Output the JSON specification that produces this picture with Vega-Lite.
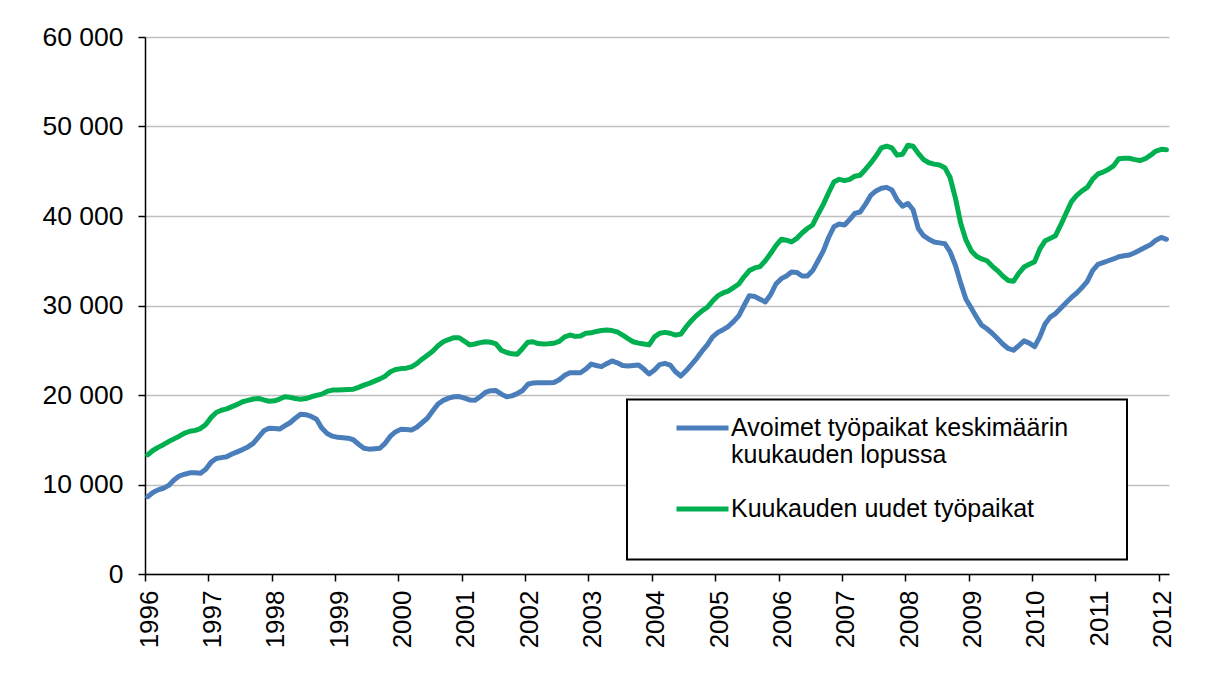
{
  "$schema": "https://vega.github.io/schema/vega-lite/v6.json",
  "width": 1024,
  "height": 537,
  "autosize": {"type": "none"},
  "padding": {"left": 145, "top": 37, "right": 46, "bottom": 108},
  "background": "#ffffff",
  "config": {
    "view": {"stroke": null},
    "font": "Liberation Sans",
    "legend": {"strokeWidth": 2}
  },
  "data": {
    "format": {"parse": {"d": "date:'%Y-%m'"}},
    "values": [
      {"d":"1996-01","a":8640,"u":13300},{"d":"1996-02","a":9100,"u":13800},{"d":"1996-03","a":9400,"u":14150},{"d":"1996-04","a":9580,"u":14450},{"d":"1996-05","a":9900,"u":14800},{"d":"1996-06","a":10500,"u":15100},{"d":"1996-07","a":10950,"u":15400},{"d":"1996-08","a":11150,"u":15750},{"d":"1996-09","a":11300,"u":15950},{"d":"1996-10","a":11300,"u":16050},{"d":"1996-11","a":11250,"u":16250},{"d":"1996-12","a":11700,"u":16700},
      {"d":"1997-01","a":12500,"u":17500},{"d":"1997-02","a":12900,"u":18050},{"d":"1997-03","a":13000,"u":18300},{"d":"1997-04","a":13100,"u":18450},{"d":"1997-05","a":13400,"u":18700},{"d":"1997-06","a":13650,"u":18950},{"d":"1997-07","a":13900,"u":19250},{"d":"1997-08","a":14200,"u":19400},{"d":"1997-09","a":14600,"u":19550},{"d":"1997-10","a":15300,"u":19620},{"d":"1997-11","a":16000,"u":19450},{"d":"1997-12","a":16280,"u":19300},
      {"d":"1998-01","a":16250,"u":19350},{"d":"1998-02","a":16200,"u":19550},{"d":"1998-03","a":16550,"u":19800},{"d":"1998-04","a":16900,"u":19750},{"d":"1998-05","a":17400,"u":19600},{"d":"1998-06","a":17850,"u":19520},{"d":"1998-07","a":17800,"u":19600},{"d":"1998-08","a":17600,"u":19800},{"d":"1998-09","a":17300,"u":19950},{"d":"1998-10","a":16300,"u":20100},{"d":"1998-11","a":15700,"u":20400},{"d":"1998-12","a":15400,"u":20550},
      {"d":"1999-01","a":15270,"u":20550},{"d":"1999-02","a":15230,"u":20580},{"d":"1999-03","a":15180,"u":20620},{"d":"1999-04","a":15000,"u":20650},{"d":"1999-05","a":14500,"u":20850},{"d":"1999-06","a":14050,"u":21100},{"d":"1999-07","a":13950,"u":21300},{"d":"1999-08","a":14000,"u":21550},{"d":"1999-09","a":14050,"u":21800},{"d":"1999-10","a":14600,"u":22100},{"d":"1999-11","a":15400,"u":22600},{"d":"1999-12","a":15900,"u":22850},
      {"d":"2000-01","a":16170,"u":22950},{"d":"2000-02","a":16150,"u":23000},{"d":"2000-03","a":16100,"u":23150},{"d":"2000-04","a":16400,"u":23500},{"d":"2000-05","a":16900,"u":24000},{"d":"2000-06","a":17400,"u":24450},{"d":"2000-07","a":18200,"u":24900},{"d":"2000-08","a":19000,"u":25500},{"d":"2000-09","a":19400,"u":25950},{"d":"2000-10","a":19650,"u":26200},{"d":"2000-11","a":19800,"u":26400},{"d":"2000-12","a":19820,"u":26400},
      {"d":"2001-01","a":19650,"u":26000},{"d":"2001-02","a":19450,"u":25600},{"d":"2001-03","a":19400,"u":25700},{"d":"2001-04","a":19800,"u":25850},{"d":"2001-05","a":20300,"u":25950},{"d":"2001-06","a":20480,"u":25900},{"d":"2001-07","a":20500,"u":25700},{"d":"2001-08","a":20100,"u":25000},{"d":"2001-09","a":19800,"u":24750},{"d":"2001-10","a":19900,"u":24600},{"d":"2001-11","a":20150,"u":24550},{"d":"2001-12","a":20500,"u":25200},
      {"d":"2002-01","a":21200,"u":25900},{"d":"2002-02","a":21350,"u":25950},{"d":"2002-03","a":21370,"u":25750},{"d":"2002-04","a":21380,"u":25700},{"d":"2002-05","a":21370,"u":25720},{"d":"2002-06","a":21400,"u":25780},{"d":"2002-07","a":21700,"u":26000},{"d":"2002-08","a":22200,"u":26500},{"d":"2002-09","a":22490,"u":26700},{"d":"2002-10","a":22500,"u":26550},{"d":"2002-11","a":22490,"u":26600},{"d":"2002-12","a":22900,"u":26900},
      {"d":"2003-01","a":23450,"u":26950},{"d":"2003-02","a":23300,"u":27100},{"d":"2003-03","a":23170,"u":27200},{"d":"2003-04","a":23500,"u":27250},{"d":"2003-05","a":23800,"u":27200},{"d":"2003-06","a":23600,"u":27050},{"d":"2003-07","a":23300,"u":26700},{"d":"2003-08","a":23240,"u":26300},{"d":"2003-09","a":23300,"u":25950},{"d":"2003-10","a":23350,"u":25800},{"d":"2003-11","a":22900,"u":25700},{"d":"2003-12","a":22350,"u":25600},
      {"d":"2004-01","a":22800,"u":26500},{"d":"2004-02","a":23400,"u":26900},{"d":"2004-03","a":23540,"u":27000},{"d":"2004-04","a":23350,"u":26900},{"d":"2004-05","a":22600,"u":26700},{"d":"2004-06","a":22120,"u":26800},{"d":"2004-07","a":22700,"u":27600},{"d":"2004-08","a":23400,"u":28300},{"d":"2004-09","a":24100,"u":28900},{"d":"2004-10","a":24900,"u":29400},{"d":"2004-11","a":25600,"u":29800},{"d":"2004-12","a":26500,"u":30500},
      {"d":"2005-01","a":27000,"u":31100},{"d":"2005-02","a":27300,"u":31400},{"d":"2005-03","a":27650,"u":31600},{"d":"2005-04","a":28200,"u":32000},{"d":"2005-05","a":28850,"u":32400},{"d":"2005-06","a":30000,"u":33200},{"d":"2005-07","a":31100,"u":33900},{"d":"2005-08","a":31000,"u":34200},{"d":"2005-09","a":30700,"u":34350},{"d":"2005-10","a":30400,"u":35000},{"d":"2005-11","a":31200,"u":35800},{"d":"2005-12","a":32400,"u":36700},
      {"d":"2006-01","a":33000,"u":37400},{"d":"2006-02","a":33300,"u":37300},{"d":"2006-03","a":33750,"u":37100},{"d":"2006-04","a":33700,"u":37500},{"d":"2006-05","a":33300,"u":38100},{"d":"2006-06","a":33300,"u":38600},{"d":"2006-07","a":33900,"u":39000},{"d":"2006-08","a":35000,"u":40200},{"d":"2006-09","a":36100,"u":41300},{"d":"2006-10","a":37600,"u":42600},{"d":"2006-11","a":38800,"u":43800},{"d":"2006-12","a":39100,"u":44100},
      {"d":"2007-01","a":39000,"u":43950},{"d":"2007-02","a":39600,"u":44100},{"d":"2007-03","a":40300,"u":44450},{"d":"2007-04","a":40450,"u":44550},{"d":"2007-05","a":41300,"u":45200},{"d":"2007-06","a":42300,"u":45900},{"d":"2007-07","a":42800,"u":46700},{"d":"2007-08","a":43100,"u":47600},{"d":"2007-09","a":43200,"u":47800},{"d":"2007-10","a":42900,"u":47600},{"d":"2007-11","a":41800,"u":46800},{"d":"2007-12","a":41100,"u":46900},
      {"d":"2008-01","a":41400,"u":47900},{"d":"2008-02","a":40700,"u":47800},{"d":"2008-03","a":38600,"u":47000},{"d":"2008-04","a":37800,"u":46300},{"d":"2008-05","a":37400,"u":45950},{"d":"2008-06","a":37100,"u":45800},{"d":"2008-07","a":37000,"u":45700},{"d":"2008-08","a":36900,"u":45400},{"d":"2008-09","a":36000,"u":44300},{"d":"2008-10","a":34500,"u":42000},{"d":"2008-11","a":32500,"u":39200},{"d":"2008-12","a":30700,"u":37300},
      {"d":"2009-01","a":29700,"u":36100},{"d":"2009-02","a":28700,"u":35500},{"d":"2009-03","a":27800,"u":35200},{"d":"2009-04","a":27400,"u":35000},{"d":"2009-05","a":26900,"u":34400},{"d":"2009-06","a":26300,"u":33900},{"d":"2009-07","a":25700,"u":33300},{"d":"2009-08","a":25200,"u":32800},{"d":"2009-09","a":25000,"u":32700},{"d":"2009-10","a":25500,"u":33600},{"d":"2009-11","a":26050,"u":34300},{"d":"2009-12","a":25800,"u":34600},
      {"d":"2010-01","a":25400,"u":34900},{"d":"2010-02","a":26500,"u":36300},{"d":"2010-03","a":27900,"u":37200},{"d":"2010-04","a":28700,"u":37500},{"d":"2010-05","a":29100,"u":37800},{"d":"2010-06","a":29700,"u":39000},{"d":"2010-07","a":30300,"u":40300},{"d":"2010-08","a":30900,"u":41600},{"d":"2010-09","a":31400,"u":42300},{"d":"2010-10","a":32000,"u":42800},{"d":"2010-11","a":32700,"u":43200},{"d":"2010-12","a":33900,"u":44100},
      {"d":"2011-01","a":34600,"u":44700},{"d":"2011-02","a":34800,"u":44900},{"d":"2011-03","a":35000,"u":45200},{"d":"2011-04","a":35200,"u":45600},{"d":"2011-05","a":35450,"u":46400},{"d":"2011-06","a":35550,"u":46450},{"d":"2011-07","a":35650,"u":46450},{"d":"2011-08","a":35900,"u":46300},{"d":"2011-09","a":36200,"u":46200},{"d":"2011-10","a":36500,"u":46400},{"d":"2011-11","a":36800,"u":46800},{"d":"2011-12","a":37300,"u":47250},
      {"d":"2012-01","a":37600,"u":47450},{"d":"2012-02","a":37400,"u":47400}
    ]
  },
  "transform": [
    {"fold": ["a", "u"], "as": ["sarja", "arvo"]}
  ],
  "mark": {"type": "line", "strokeWidth": 5, "strokeJoin": "round", "strokeCap": "round"},
  "encoding": {
    "x": {
      "field": "d",
      "timeUnit": "yearmonth",
      "type": "temporal",
      "bandPosition": 0.5,
      "scale": {"domain": [{"year": 1996, "month": 1, "date": 1}, {"year": 2012, "month": 3, "date": 1}]},
      "axis": {
        "title": null,
        "format": "%Y",
        "tickCount": {"interval": "year", "step": 1},
        "grid": false,
        "domainColor": "#000000",
        "domainWidth": 1.5,
        "tickColor": "#000000",
        "tickWidth": 1.5,
        "tickSize": 7,
        "labelAngle": -90,
        "labelPadding": 9,
        "labelOffset": 4,
        "labelFontSize": 26,
        "labelColor": "#000000",
        "labelFont": "Liberation Sans",
        "labelFlush": false,
        "labelOverlap": false
      }
    },
    "y": {
      "field": "arvo",
      "type": "quantitative",
      "scale": {"domain": [0, 60000], "nice": false},
      "axis": {
        "title": null,
        "values": [0, 10000, 20000, 30000, 40000, 50000, 60000],
        "labelExpr": "replace(format(datum.value, ','), ',', ' ')",
        "grid": true,
        "gridColor": "#bfbfbf",
        "gridWidth": 1.5,
        "domainColor": "#000000",
        "domainWidth": 1.5,
        "tickColor": "#000000",
        "tickWidth": 1.5,
        "tickSize": 7,
        "labelPadding": 15,
        "labelFontSize": 26.5,
        "labelColor": "#000000",
        "labelFont": "Liberation Sans"
      }
    },
    "color": {
      "field": "sarja",
      "type": "nominal",
      "scale": {"domain": ["a", "u"], "range": ["#4a7ebb", "#00b050"]},
      "legend": {
        "orient": "none",
        "legendX": 482,
        "legendY": 362.5,
        "title": ["\u00a0", "\u00a0", "\u00a0", "\u00a0", "\u00a0", "\u00a0"],
        "titleOrient": "right",
        "titleAnchor": "start",
        "titleBaseline": "top",
        "titleFontSize": 25,
        "titleLineHeight": 27,
        "titlePadding": 59,
        "padding": 0,
        "strokeColor": "#000000",
        "fillColor": "#ffffff",
        "symbolType": "stroke",
        "symbolSize": 2704,
        "symbolStrokeWidth": 5,
        "symbolOffset": 47,
        "labelOffset": 0,
        "rowPadding": 12,
        "labelFontSize": 25,
        "labelFont": "Liberation Sans",
        "labelColor": "#000000",
        "labelLimit": 800,
        "labelBaseline": "middle",
        "labelExpr": "datum.value == 'a' ? ['Avoimet työpaikat keskimäärin', 'kuukauden lopussa'] : ['Kuukauden uudet työpaikat', '']"
      }
    }
  }
}
